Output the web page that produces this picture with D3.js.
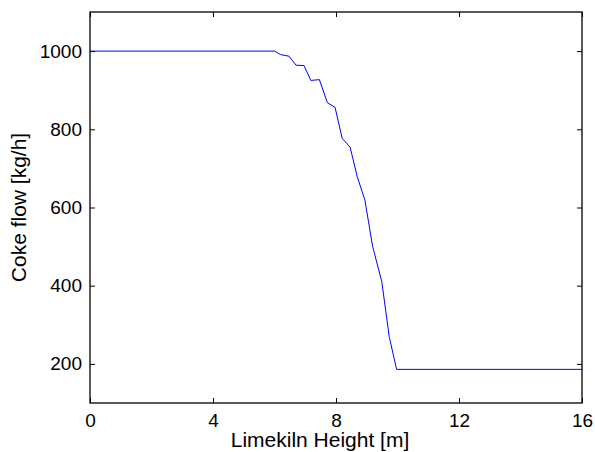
<!DOCTYPE html>
<html>
<head>
<meta charset="utf-8">
<script src="https://cdn.jsdelivr.net/npm/d3@7"></script>
<style>
  body { margin: 0; background: #fff; }
  text { font-family: "Liberation Sans", Arial, sans-serif; fill: #000; }
</style>
</head>
<body>
<div id="chart"></div>
<script>
// height along the kiln [m]
var heights = [0, 6.0, 6.2, 6.47, 6.7, 6.96, 7.18, 7.46, 7.72, 7.97, 8.2, 8.46, 8.69, 8.94, 9.19, 9.49, 9.73, 9.97, 16];
// coke flow [kg/h]
var cokeFlow = [1000, 1000, 991, 987, 964, 963, 925, 927, 868, 856, 777, 754, 679, 619, 501, 410, 270, 186, 186];
var xTicks = [0, 4, 8, 12, 16];
var yTicks = [200, 400, 600, 800, 1000];

var svgW = 595, svgH = 452;
var plotL = 90, plotR = 582, plotT = 12, plotB = 403;

var svg = d3.select("#chart")
  .append("svg")
    .attr("width", svgW)
    .attr("height", svgH);

var x = d3.scaleLinear().domain([0, 16]).range([plotL, plotR]);
var y = d3.scaleLinear().domain([100, 1100]).range([plotB, plotT]);

//ticks, pointing inward
var xAxis = svg.append("g")
    .attr("transform", "translate(0," + plotB + ")")
    .call(d3.axisBottom(x).tickValues(xTicks).tickFormat(d3.format("d")).tickSizeInner(-5).tickSizeOuter(0).tickPadding(11));
var xAxisTop = svg.append("g")
    .attr("transform", "translate(0," + plotT + ")")
    .call(d3.axisTop(x).tickValues(xTicks).tickSizeInner(-5).tickSizeOuter(0).tickFormat(""));
var yAxis = svg.append("g")
    .attr("transform", "translate(" + plotL + ",0)")
    .call(d3.axisLeft(y).tickValues(yTicks).tickFormat(d3.format("d")).tickSizeInner(-5).tickSizeOuter(0).tickPadding(8));
var yAxisRight = svg.append("g")
    .attr("transform", "translate(" + plotR + ",0)")
    .call(d3.axisRight(y).tickValues(yTicks).tickSizeInner(-5).tickSizeOuter(0).tickFormat(""));

[xAxis, xAxisTop, yAxis, yAxisRight].forEach(function(a) {
	a.select(".domain").remove();
	a.selectAll("line").style("stroke", "#000").style("stroke-width", "1px");
	a.selectAll("text")
	    .style("font-family", "'Liberation Sans', Arial, sans-serif")
	    .style("font-size", "19px")
	    .style("fill", "#000");
});

//data line
var line = d3.line()
    .x(function(d) { return x(d[0]); })
    .y(function(d) { return y(d[1]); });

svg.append("path")
    .datum(d3.zip(heights, cokeFlow))
    .attr("d", line)
    .style("fill", "none")
    .style("stroke", "#0000ff")
    .style("stroke-width", "1px");

//frame
svg.append("rect")
    .attr("x", plotL)
    .attr("y", plotT)
    .attr("width", plotR - plotL)
    .attr("height", plotB - plotT)
    .style("fill", "none")
    .style("stroke", "#000")
    .style("stroke-width", "1.3px");

//labels
svg.append("text")
    .attr("x", 320)
    .attr("y", 447)
    .attr("text-anchor", "middle")
    .style("font-size", "21px")
    .text("Limekiln Height [m]");

svg.append("text")
    .attr("transform", "translate(26," + (plotT + plotB) / 2 + ") rotate(-90)")
    .attr("text-anchor", "middle")
    .style("font-size", "21px")
    .text("Coke flow [kg/h]");
</script>
</body>
</html>
